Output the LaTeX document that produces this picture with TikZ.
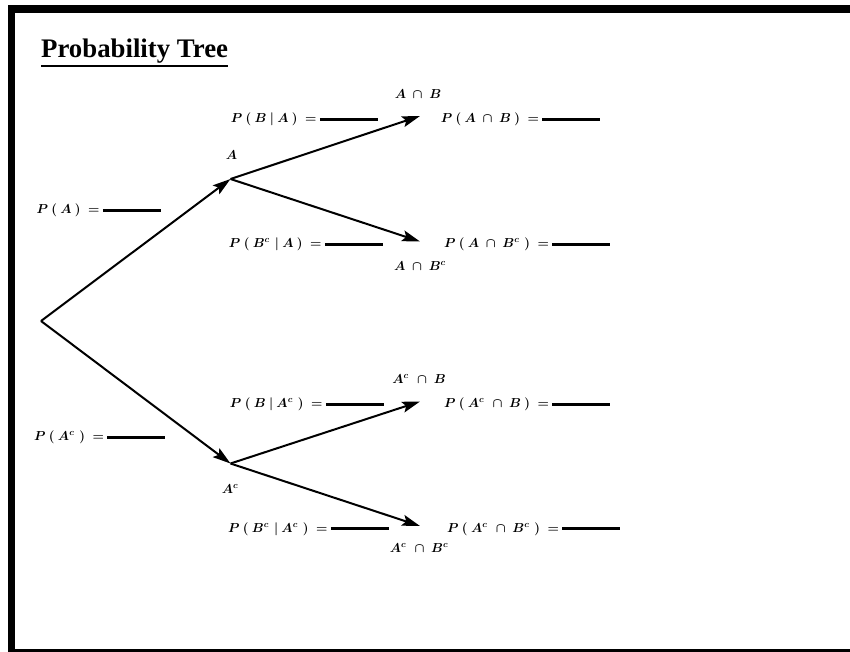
\RequirePackage{fix-cm}
\documentclass[tikz,border=0pt]{standalone}
\usepackage{fontspec}
\newfontfamily\titlefont{Liberation Serif}
\usetikzlibrary{arrows.meta}
\newcommand{\gp}{\mskip 4mu}
\newcommand{\cc}{^{c}\mskip 6mu}
\newcommand{\blank}{\rule[2pt]{58pt}{2.6pt}}
\begin{document}
\begin{tikzpicture}[x=1pt,y=-1pt,
  br/.style={line width=2pt,-{Stealth[length=18pt,width=11pt,inset=3.5pt]}},
  lbl/.style={inner sep=0pt,font=\fontsize{13}{15}\selectfont\boldmath},
  prob/.style={lbl,anchor=base east},
  evt/.style={lbl,anchor=base}]
\useasboundingbox (0,0) rectangle (850,652);
% frame
\fill (8,5) rectangle (850,13);
\fill (8,5) rectangle (15,652);
\fill (8,649) rectangle (850,652);
% title
\node[anchor=base west,inner sep=0pt,font=\titlefont\bfseries\fontsize{26.8}{30}\selectfont] (title) at (41,58) {Probability Tree};
\draw[line width=2.6pt] ([yshift=-8pt]title.base west) -- ([yshift=-8pt]title.base east);
% tree points
\coordinate (r) at (41,321);
\coordinate (a) at (230.5,179);
\coordinate (ac) at (230.5,463.5);
\coordinate (ab) at (420,116);
\coordinate (abc) at (420,241.5);
\coordinate (acb) at (420,401.5);
\coordinate (acbc) at (420,526);
\draw[br] (r) -- (a);
\draw[br] (r) -- (ac);
\draw[br] (a) -- (ab);
\draw[br] (a) -- (abc);
\draw[br] (ac) -- (acb);
\draw[br] (ac) -- (acbc);
% probabilities
\node[prob] (pa) at (161,214) {$P\gp(\gp A\gp)\gp=\gp$\blank};
\node[prob] (pac) at (165.5,440.5) {$P\gp(\gp A\cc)\gp=\gp$\blank};
\node[prob] (pba) at (378,123) {$P\gp(\gp B\gp|\gp A\gp)\gp=\gp$\blank};
\node[prob] (pbca) at (383,247.5) {$P\gp(\gp B\cc|\gp A\gp)\gp=\gp$\blank};
\node[prob] (pbac) at (384,407.5) {$P\gp(\gp B\gp|\gp A\cc)\gp=\gp$\blank};
\node[prob] (pbcac) at (389,532) {$P\gp(\gp B\cc|\gp A\cc)\gp=\gp$\blank};
\node[prob] (pab) at (600.5,123) {$P\gp(\gp A\gp\cap\gp B\gp)\gp=\gp$\blank};
\node[prob] (pabc) at (610.5,247.5) {$P\gp(\gp A\gp\cap\gp B\cc)\gp=\gp$\blank};
\node[prob] (pacb) at (610.5,407.5) {$P\gp(\gp A\cc\cap\gp B\gp)\gp=\gp$\blank};
\node[prob] (pacbc) at (620.5,532) {$P\gp(\gp A\cc\cap\gp B\cc)\gp=\gp$\blank};
% events
\node[evt] (la) at (231.5,160) {$A$};
\node[evt] (lac) at (230,493.5) {$A^c$};
\node[evt] (lab) at (418,98.5) {$A\gp\cap\gp B$};
\node[evt] (labc) at (420,270.5) {$A\gp\cap\gp B^c$};
\node[evt] (lacb) at (419,383.5) {$A\cc\cap\gp B$};
\node[evt] (lacbc) at (419,552) {$A\cc\cap\gp B^c$};
\end{tikzpicture}
\end{document}
